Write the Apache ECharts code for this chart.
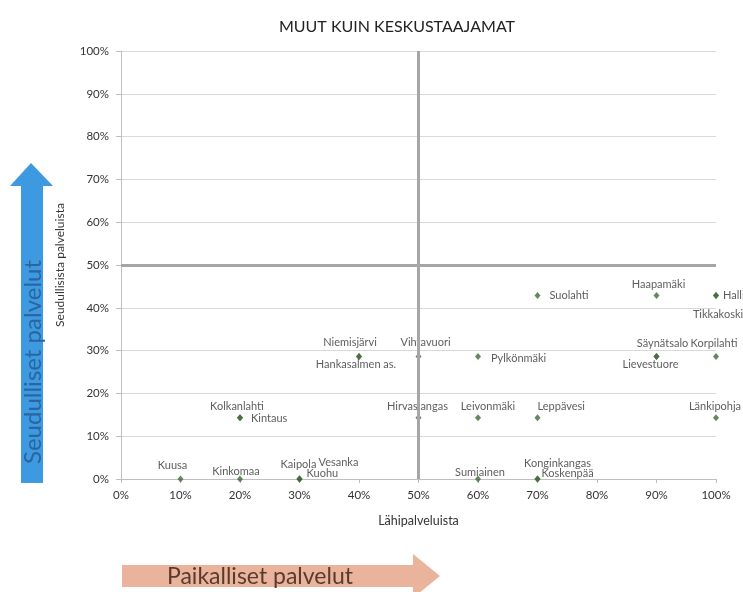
<!DOCTYPE html>
<html><head><meta charset="utf-8">
<script src="https://cdn.jsdelivr.net/npm/echarts@6/dist/echarts.min.js"></script>
<style>html,body{margin:0;padding:0;background:#fff}#c{width:743px;height:592px}</style>
</head><body><div id="c"></div>
<script>
// ---- data ----
const titleText = 'MUUT KUIN KESKUSTAAJAMAT';
const xAxisName = 'Lähipalveluista';
const yAxisName = 'Seudullisista palveluista';
const places = ['Kuusa','Kinkomaa','Kaipola','Vesanka','Kuohu','Sumiainen','Konginkangas','Koskenpää',
  'Kolkanlahti','Kintaus','Hirvaslangas','Leivonmäki','Leppävesi','Länkipohja',
  'Niemisjärvi','Hankasalmen as.','Vihtavuori','Pylkönmäki','Säynätsalo','Lievestuore','Korpilahti',
  'Suolahti','Haapamäki','Halli','Tikkakoski'];
const lahiPct = [10,20,30,30,30,60,70,70, 20,20,50,60,70,100, 40,40,50,60,90,90,100, 70,90,100,100];
const seutuPct = [0,0,0,0,0,0,0,0, 14.3,14.3,14.3,14.3,14.3,14.3, 28.6,28.6,28.6,28.6,28.6,28.6,28.6, 42.9,42.9,42.9,42.9];
const quadrantX = 50, quadrantY = 50;
const arrowYText = 'Seudulliset palvelut';
const arrowXText = 'Paikalliset palvelut';

// ---- label placement (style only) ----
const labelPlace = {
  'Kuusa':[-8,-14,'center'], 'Kinkomaa':[-4,-8,'center'], 'Kaipola':[-1,-15,'center'],
  'Vesanka':[39,-17,'center'], 'Kuohu':[7,-6,'left'], 'Sumiainen':[2,-7,'center'],
  'Konginkangas':[20,-16,'center'], 'Koskenpää':[4,-6,'left'],
  'Kolkanlahti':[-3,-11,'center'], 'Kintaus':[11,1,'left'], 'Hirvaslangas':[-1,-11,'center'],
  'Leivonmäki':[10,-11,'center'], 'Leppävesi':[0,-11,'left'], 'Länkipohja':[-1,-11,'center'],
  'Niemisjärvi':[-9,-14,'center'], 'Hankasalmen as.':[-3,8,'center'], 'Vihtavuori':[7,-14,'center'],
  'Pylkönmäki':[13,2,'left'], 'Säynätsalo':[6,-13,'center'], 'Lievestuore':[-6,8,'center'],
  'Korpilahti':[-2,-13,'center'], 'Suolahti':[12,0,'left'], 'Haapamäki':[2,-11,'center'],
  'Halli':[7,0,'left'], 'Tikkakoski':[2,19,'center']
};

const FONT = 'Lato';
const pts = places.map((n,i)=>{
  const p = labelPlace[n] || [0,-10,'center'];
  return {name:n, value:[lahiPct[i], seutuPct[i]],
    label:{show:true, position:'inside', offset:[p[0],p[1]], align:p[2], verticalAlign:'middle'}};
});

const chart = echarts.init(document.getElementById('c'), null, {renderer:'canvas'});
chart.setOption({
  animation:false,
  backgroundColor:'#fff',
  title:{text:titleText, left:392, top:14, textAlign:'center',
    textStyle:{fontFamily:FONT, fontSize:16, fontWeight:'normal', color:'#222'}},
  grid:{left:121, top:51, width:595, height:428, containLabel:false},
  xAxis:{type:'value', min:0, max:100, interval:10,
    name:xAxisName, nameLocation:'middle', nameGap:35,
    nameTextStyle:{fontFamily:FONT, fontSize:12.5, color:'#333'},
    axisLine:{show:true, lineStyle:{color:'#bfbfbf'}},
    axisTick:{show:true, length:4, lineStyle:{color:'#bfbfbf'}},
    splitLine:{show:false},
    axisLabel:{formatter:'{value}%', fontFamily:FONT, fontSize:11.5, color:'#333', margin:10}},
  yAxis:{type:'value', min:0, max:100, interval:10,
    name:yAxisName, nameLocation:'middle', nameGap:55, nameRotate:90,
    nameTextStyle:{fontFamily:FONT, fontSize:12, color:'#333'},
    axisLine:{show:true, lineStyle:{color:'#bfbfbf'}},
    axisTick:{show:true, length:5, lineStyle:{color:'#bfbfbf'}},
    splitLine:{show:true, lineStyle:{color:'#d9d9d9'}},
    axisLabel:{formatter:'{value}%', fontFamily:FONT, fontSize:11.5, color:'#333', margin:12}},
  series:[{
    type:'scatter', symbol:'diamond', symbolSize:[6,7],
    itemStyle:{color:'#3e6b36'},
    label:{formatter:'{b}', fontFamily:FONT, fontSize:11, color:'#333'},
    data:pts,
    markLine:{silent:true, symbol:'none', label:{show:false},
      lineStyle:{color:'#a6a6a6', width:3, type:'solid'},
      data:[{xAxis:quadrantX},{yAxis:quadrantY}]}
  }],
  graphic:[
    {type:'polygon', z:-1, shape:{points:[[31,163],[53,186],[43,186],[43,483],[21,483],[21,186],[10,186]]},
      style:{fill:'#3d9ae0'}},
    {type:'text', z:1, x:33, y:362, rotation:Math.PI/2,
      style:{text:arrowYText, fontFamily:FONT, fontSize:24, fill:'#2b65a0', align:'center', verticalAlign:'middle'}},
    {type:'polygon', z:-1, shape:{points:[[122,565],[413,565],[413,554],[440,576],[413,598],[413,587],[122,587]]},
      style:{fill:'#e9b49b'}},
    {type:'text', z:1, x:167, y:577,
      style:{text:arrowXText, fontFamily:FONT, fontSize:23, fill:'#5a3a2c', align:'left', verticalAlign:'middle'}}
  ]
});
</script></body></html>
